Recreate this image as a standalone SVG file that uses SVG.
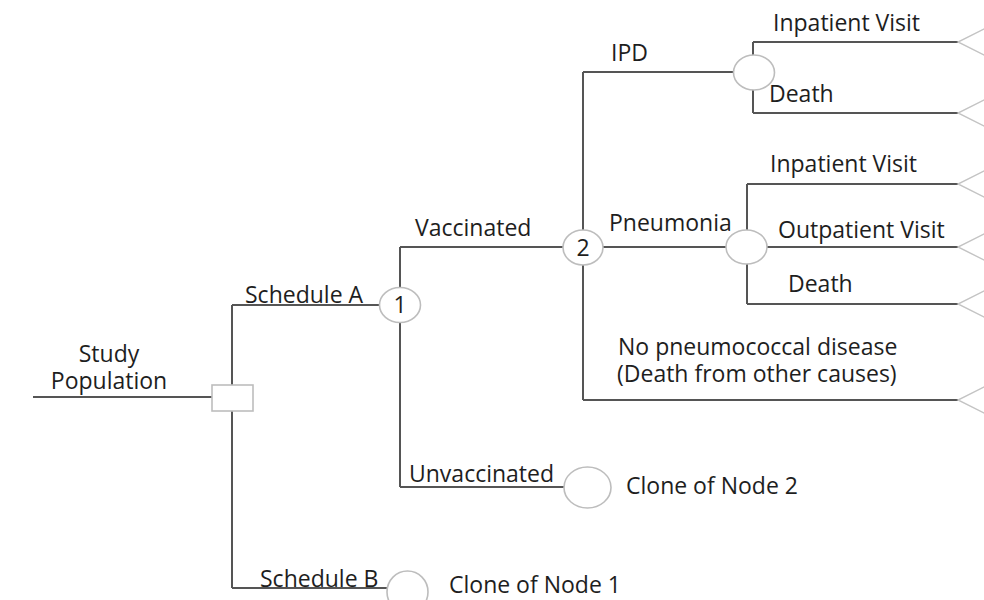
<svg xmlns="http://www.w3.org/2000/svg" width="984" height="600" viewBox="0 0 984 600">
<style>
  .ln { fill: none; stroke: #555; stroke-width: 2; }
  .nd { fill: #fff; stroke: #bdbdbd; stroke-width: 1.6; }
  .tm { fill: none; stroke: #c4c4c4; stroke-width: 1.4; }
  text { font-family: "Open Sans", "Liberation Sans", sans-serif; font-size: 23px; fill: #1e1e1e; }
  .mid { text-anchor: middle; }
</style>
<rect width="984" height="600" fill="#fff"/>
<g id="connectors">
  <path class="ln" d="M33,397 H212"/>
  <path class="ln" d="M232,305 V588"/>
  <path class="ln" d="M232,305 H380"/>
  <path class="ln" d="M232,588 H387"/>
  <path class="ln" d="M400,247 V487"/>
  <path class="ln" d="M400,247 H563"/>
  <path class="ln" d="M400,487 H564"/>
  <path class="ln" d="M583,72 V400"/>
  <path class="ln" d="M583,72 H734"/>
  <path class="ln" d="M603,247 H726"/>
  <path class="ln" d="M583,400 H958"/>
  <path class="ln" d="M753,42 V113"/>
  <path class="ln" d="M753,42 H958"/>
  <path class="ln" d="M753,113 H958"/>
  <path class="ln" d="M747,184 V304"/>
  <path class="ln" d="M747,184 H958"/>
  <path class="ln" d="M767,247 H958"/>
  <path class="ln" d="M747,304 H958"/>
</g>
<g id="labels">
  <text x="109" y="362" class="mid">Study</text>
  <text x="109" y="389" class="mid">Population</text>
  <text x="245" y="303">Schedule A</text>
  <text x="260" y="587">Schedule B</text>
  <text x="415" y="236">Vaccinated</text>
  <text x="409" y="482">Unvaccinated</text>
  <text x="611" y="61">IPD</text>
  <text x="609" y="231">Pneumonia</text>
  <text x="618" y="355">No pneumococcal disease</text>
  <text x="617" y="382">(Death from other causes)</text>
  <text x="773" y="31">Inpatient Visit</text>
  <text x="769" y="102">Death</text>
  <text x="770" y="172">Inpatient Visit</text>
  <text x="778" y="238">Outpatient Visit</text>
  <text x="788" y="292">Death</text>
  <text x="626" y="494">Clone of Node 2</text>
  <text x="449" y="593">Clone of Node 1</text>
</g>
<g id="decision-node">
  <rect class="nd" x="212" y="385" width="41" height="26"/>
</g>
<g id="node-1">
  <ellipse class="nd" cx="400" cy="305" rx="20.5" ry="17.5"/>
  <text x="400" y="313" class="mid">1</text>
</g>
<g id="node-2">
  <ellipse class="nd" cx="583" cy="247.5" rx="20" ry="17.5"/>
  <text x="583" y="256" class="mid">2</text>
</g>
<g id="chance-ipd">
  <ellipse class="nd" cx="754" cy="72.5" rx="20.5" ry="17.5"/>
</g>
<g id="chance-pneumonia">
  <ellipse class="nd" cx="746.5" cy="247" rx="20.5" ry="17"/>
</g>
<g id="clone-node-2">
  <ellipse class="nd" cx="587.5" cy="487.5" rx="23.5" ry="20.5"/>
</g>
<g id="clone-node-1">
  <ellipse class="nd" cx="407.5" cy="592" rx="20.5" ry="21"/>
</g>
<g id="terminals">
  <polyline class="tm" points="986,28 958,42 986,56"/>
  <polyline class="tm" points="986,99 958,113 986,127"/>
  <polyline class="tm" points="986,170 958,184 986,198"/>
  <polyline class="tm" points="986,233 958,247 986,261"/>
  <polyline class="tm" points="986,290 958,304 986,318"/>
  <polyline class="tm" points="986,386 958,400 986,414"/>
</g>
</svg>
